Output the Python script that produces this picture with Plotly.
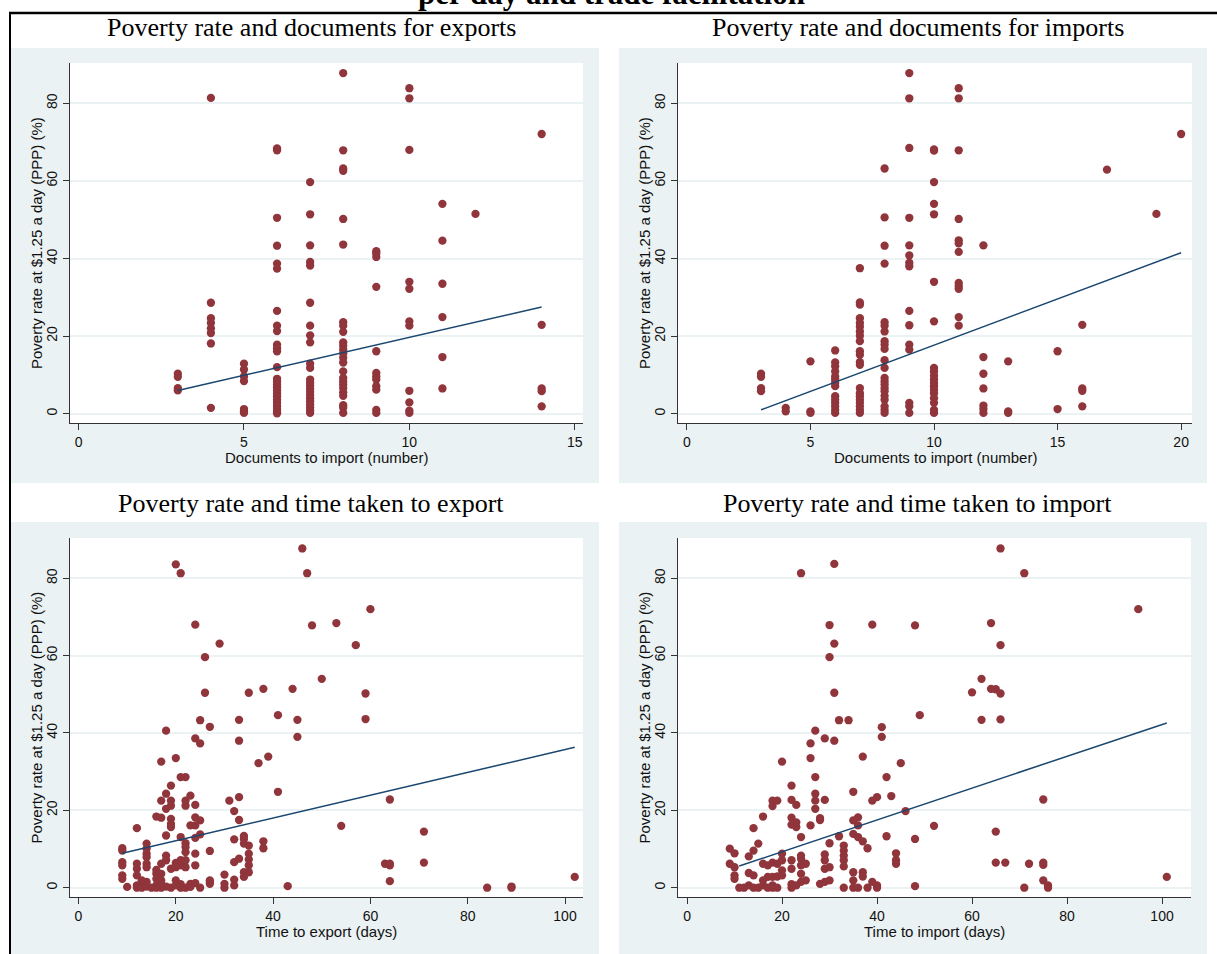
import plotly.graph_objects as go

# ---------------- data ----------------
# Panel 1: documents (x) vs poverty rate (y)
exp_doc_counts = [3, 4, 5, 6, 7, 8, 9, 10, 11, 12, 14]
exp_doc_poverty = [
    [10.3, 9.5, 6.6, 6.0],
    [81.4, 28.6, 24.6, 23.4, 22.0, 20.8, 18.1, 1.5],
    [12.9, 11.4, 9.6, 8.4, 1.2, 0.6, 0.2],
    [68.4, 67.9, 50.5, 43.3, 38.7, 37.4, 26.5, 22.7, 21.3, 17.8, 16.9, 16.1, 12.0,
     9.0, 8.3, 7.5, 6.8, 6.0, 5.2, 4.5, 3.6, 2.8, 2.0, 1.2, 0.5, 0.1],
    [59.7, 51.4, 43.4, 39.1, 38.2, 28.6, 22.7, 20.2, 18.4, 12.9, 11.8,
     8.8, 8.0, 7.2, 6.4, 5.6, 4.8, 4.0, 3.2, 2.4, 1.6, 0.8, 0.2],
    [87.8, 67.9, 63.2, 62.6, 50.2, 43.6, 23.6, 22.7, 21.1, 18.4, 17.5, 16.5, 15.5,
     14.4, 13.2, 10.9, 9.2, 8.3, 7.5, 6.6, 5.5, 4.6, 2.2, 1.5, 0.2],
    [41.9, 41.3, 40.4, 32.7, 16.1, 10.5, 9.6, 8.8, 7.1, 6.2, 1.0, 0.2],
    [83.9, 81.3, 68.0, 34.0, 32.2, 23.8, 22.7, 5.9, 2.9, 0.8, 0.2],
    [54.1, 44.6, 33.5, 24.9, 14.6, 6.5],
    [51.5],
    [72.1, 22.9, 6.5, 5.8, 1.9],
]
exp_doc_fit_x = [3, 14]
exp_doc_fit_y = [6.0, 27.5]

# Panel 2: documents for imports
imp_doc_counts = [3, 4, 5, 6, 7, 8, 9, 10, 11, 12, 13, 15, 16, 17, 19, 20]
imp_doc_poverty = [
    [10.3, 9.5, 6.6, 5.8],
    [1.5, 0.6],
    [13.5, 0.6, 0.2],
    [16.3, 13.2, 12.2, 10.9, 9.6, 8.8, 7.9, 7.1, 4.5, 3.6, 2.8, 1.9, 1.0, 0.2],
    [37.5, 28.7, 28.1, 24.6, 23.4, 22.4, 21.2, 20.1, 18.7, 16.1, 15.2, 13.3, 12.6,
     6.6, 5.3, 4.5, 3.6, 2.8, 1.9, 1.0, 0.2],
    [63.2, 50.6, 43.3, 38.7, 23.6, 22.7, 21.2, 18.7, 17.8, 16.7, 13.8, 11.8, 9.2,
     8.3, 7.5, 6.6, 5.8, 4.6, 3.6, 1.9, 1.0, 0.2],
    [87.8, 81.3, 68.5, 50.5, 43.4, 40.8, 38.9, 38.0, 26.5, 22.8, 17.8, 16.5, 2.8, 1.9, 0.2],
    [68.1, 67.8, 59.7, 54.1, 51.4, 34.0, 23.8, 11.8, 10.9, 9.8, 8.8, 7.9, 7.1, 6.2,
     5.3, 4.0, 2.8, 1.0, 0.2],
    [83.9, 81.3, 67.9, 50.2, 44.7, 43.9, 41.7, 33.7, 32.9, 32.2, 24.9, 22.7],
    [43.4, 14.6, 10.3, 6.5, 2.1, 1.2, 0.2],
    [13.5, 0.6, 0.2],
    [16.1, 1.2],
    [22.9, 6.5, 5.9, 1.9],
    [62.9],
    [51.5],
    [72.1],
]
imp_doc_fit_x = [3, 20]
imp_doc_fit_y = [1.0, 41.5]

# Panel 3: time to export (days)
exp_days = [20, 21, 46, 47, 24, 48, 53, 60, 29, 57, 26, 50, 26, 35, 38, 44, 59, 41, 25, 33,
            45, 59, 18, 27, 24, 25, 33, 45, 39, 37, 17, 20, 21, 22, 19, 41, 18, 23, 33, 64,
            17, 19, 22, 24, 22, 19, 31, 18, 32, 16, 17, 19, 24, 25, 33, 19, 19, 23, 24, 54,
            12, 71, 18, 21, 25, 24, 34, 34, 32, 38, 38, 14, 14, 14, 14, 9, 9, 22, 22, 22,
            27, 34, 35, 35, 35, 35, 35, 34, 34, 24, 24, 9, 9, 9, 9, 12, 12, 12, 13, 14,
            14, 18, 18, 17, 16, 16, 16, 17, 17, 19, 20, 20, 21, 21, 22, 22, 32, 33, 30, 32,
            27, 27, 63, 64, 64, 71, 64, 102, 43, 84, 89, 89,
            10, 12, 12, 13, 13, 14, 14, 15, 16, 16, 17, 17, 18, 19, 20, 20, 21, 21, 22, 23,
            23, 24, 25, 27, 30, 30, 32]
exp_days_poverty = [83.6, 81.3, 87.7, 81.3, 68.0, 67.8, 68.4, 72.0, 63.1, 62.7, 59.6, 54.0, 50.4,
                    50.4, 51.4, 51.4, 50.2, 44.6, 43.3, 43.4, 43.4, 43.6, 40.6, 41.6, 38.6, 37.3,
                    38.0, 39.0, 33.9, 32.2, 32.6, 33.5, 28.6, 28.6, 26.4, 24.8, 24.3, 23.8, 23.4,
                    22.8, 22.5, 22.5, 22.5, 21.4, 21.2, 21.2, 22.5, 20.4, 19.8, 18.4, 18.1, 17.8,
                    18.2, 17.4, 17.5, 16.5, 15.7, 16.1, 16.1, 16.0, 15.4, 14.5, 13.5, 13.1, 13.8,
                    12.9, 13.4, 12.6, 12.5, 12.0, 10.2, 11.4, 10.1, 8.8, 7.9, 10.2, 9.6, 11.5,
                    10.5, 9.2, 9.5, 11.4, 10.9, 8.8, 7.3, 5.8, 4.0, 2.8, 4.0, 8.8, 5.8, 6.6, 5.8,
                    3.2, 2.3, 6.2, 4.9, 3.2, 1.9, 6.2, 5.3, 8.3, 7.1, 6.2, 4.6, 3.6, 2.3, 3.6,
                    1.9, 4.9, 6.4, 5.3, 7.1, 5.8, 7.1, 5.3, 6.6, 7.5, 3.4, 2.1, 1.9, 1.0, 6.2,
                    6.2, 5.8, 6.5, 1.7, 2.8, 0.4, 0.0, 0.3, 0.0,
                    0.2, 0.6, 0.0, 0.9, 0.0, 0.3, 1.5, 0.0, 0.6, 0.0, 0.9, 0.0, 0.3, 0.0, 1.9,
                    0.6, 0.9, 0.0, 0.0, 1.0, 0.2, 1.2, 0.0, 1.5, 1.0, 0.0, 0.6]
exp_days_fit_x = [9, 102]
exp_days_fit_y = [8.9, 36.3]

# Panel 4: time to import (days)
imp_days = [66, 31, 24, 71, 95, 30, 39, 48, 64, 31, 66, 30, 62, 31, 60, 64, 65, 66, 49, 32,
            34, 62, 66, 27, 41, 29, 26, 31, 41, 37, 26, 20, 45, 27, 42, 22, 35, 27, 43, 40,
            75, 18, 19, 22, 29, 39, 23, 18, 27, 27, 46, 16, 22, 28, 36, 28, 35, 23, 22, 23,
            26, 36, 52, 14, 65, 35, 42, 32, 24, 36, 37, 48, 30, 15, 33, 38, 14, 9, 10, 44,
            13, 20, 24, 29, 33, 33, 33, 33, 44, 44, 29, 29, 30, 24, 22, 22, 20, 20, 9, 10,
            16, 17, 18, 19, 13, 14, 10, 10, 25, 24, 65, 67, 72, 75, 75, 101, 35, 37, 37, 24,
            25, 18, 19, 20, 17, 16, 30, 29, 28, 39, 40, 48, 71, 75, 76, 76, 35,
            11, 12, 13, 14, 15, 16, 17, 18, 18, 19, 22, 22, 23, 24, 33, 35, 36, 38, 40]
imp_days_poverty = [87.7, 83.7, 81.3, 81.3, 72.0, 67.9, 68.0, 67.8, 68.4, 63.1, 62.7, 59.6, 54.0,
                    50.4, 50.5, 51.4, 51.3, 50.2, 44.6, 43.3, 43.3, 43.4, 43.5, 40.6, 41.5, 38.6,
                    37.3, 38.0, 39.0, 33.9, 33.5, 32.6, 32.2, 28.6, 28.6, 26.4, 24.8, 24.3, 23.7,
                    23.4, 22.8, 22.5, 22.5, 22.7, 22.7, 22.5, 21.4, 21.1, 22.5, 20.4, 19.8, 18.4,
                    18.1, 18.0, 18.2, 17.5, 17.4, 16.9, 16.3, 15.7, 16.1, 16.1, 16.0, 15.4, 14.5,
                    13.9, 13.3, 13.3, 13.1, 13.1, 12.0, 12.6, 11.5, 11.4, 10.9, 10.2, 9.6, 10.1,
                    8.9, 8.9, 8.1, 8.8, 8.3, 8.6, 9.6, 8.3, 7.1, 5.5, 7.1, 6.2, 7.1, 4.9, 5.3,
                    7.5, 7.1, 4.9, 7.1, 4.5, 6.2, 5.3, 6.2, 5.8, 6.5, 6.2, 3.8, 3.2, 3.2, 2.3,
                    6.2, 5.8, 6.5, 6.5, 6.2, 6.5, 5.9, 2.8, 4.0, 4.0, 2.9, 3.6, 1.9, 2.8, 2.9,
                    3.2, 2.8, 1.9, 1.9, 1.5, 1.0, 1.5, 0.6, 0.4, 0.0, 1.9, 0.6, 0.0, 1.9,
                    0.0, 0.0, 0.6, 0.0, 0.0, 0.6, 0.0, 0.6, 0.0, 0.0, 0.0, 0.9, 0.6, 1.5, 0.0,
                    0.0, 0.0, 0.0, 0.0]
imp_days_fit_x = [11, 101]
imp_days_fit_y = [5.6, 42.6]

panel_titles = ["Poverty rate and documents for exports", "Poverty rate and documents for imports",
                "Poverty rate and time taken to export", "Poverty rate and time taken to import"]
x_titles = ["Documents to import (number)", "Documents to import (number)",
            "Time to export (days)", "Time to import (days)"]
y_title = "Poverty rate at $1.25 a day (PPP) (%)"
main_title = "per day and trade facilitation"
x_ticks = [[0, 5, 10, 15], [0, 5, 10, 15, 20], [0, 20, 40, 60, 80, 100], [0, 20, 40, 60, 80, 100]]
y_ticks = [0, 20, 40, 60, 80]


def expand(counts, groups):
    xs, ys = [], []
    for c, g in zip(counts, groups):
        for v in g:
            xs.append(c)
            ys.append(v)
    return xs, ys


p1x, p1y = expand(exp_doc_counts, exp_doc_poverty)
p2x, p2y = expand(imp_doc_counts, imp_doc_poverty)
series = [
    (p1x, p1y, exp_doc_fit_x, exp_doc_fit_y),
    (p2x, p2y, imp_doc_fit_x, imp_doc_fit_y),
    (exp_days, exp_days_poverty, exp_days_fit_x, exp_days_fit_y),
    (imp_days, imp_days_poverty, imp_days_fit_x, imp_days_fit_y),
]

# ---------------- layout (pixel geometry) ----------------
W, H = 1217, 954
MAROON = "#90353B"
NAVY = "#1A476F"
BLUISH = "#EAF2F3"


def fx(p):
    return p / W


def fy(p):
    return 1 - p / H


# plot area (l, t, r, b), background box, title centre
plots = [(70, 63, 583, 423), (678, 63, 1192, 423), (70, 538, 583, 897), (678, 538, 1191, 897)]
bgs = [(11, 48, 599, 483), (619, 48, 1207, 483), (11, 522, 599, 954), (619, 522, 1207, 954)]
title_pos = [(311, 28), (918, 28), (311, 503), (917, 503)]
x_ranges = [[-0.26, 15.25], [-0.36, 20.44], [-1.75, 103.7], [-1.9, 106.1]]
y_range = [-2.4, 90.4]

fig = go.Figure()
shapes = []
annotations = []

# frame lines
shapes.append(dict(type="line", xref="paper", yref="paper", x0=fx(10), x1=fx(10), y0=fy(13), y1=fy(954),
                   line=dict(color="black", width=2), layer="below"))
shapes.append(dict(type="line", xref="paper", yref="paper", x0=fx(9), x1=fx(1217), y0=fy(13), y1=fy(13),
                   line=dict(color="black", width=2.5), layer="below"))

tick_font = dict(family="Liberation Sans, Arial, sans-serif", size=14, color="#111")
title_font = dict(family="Liberation Sans, Arial, sans-serif", size=15, color="#111")

for i in range(4):
    l, t, r, b = plots[i]
    bl, bt, br, bb = bgs[i]
    shapes.append(dict(type="rect", xref="paper", yref="paper", x0=fx(bl), x1=fx(br), y0=fy(bb), y1=fy(bt),
                       fillcolor=BLUISH, line=dict(width=0), layer="below"))
    shapes.append(dict(type="rect", xref="paper", yref="paper", x0=fx(l), x1=fx(r), y0=fy(b), y1=fy(t),
                       fillcolor="white", line=dict(width=0), layer="below"))
    sx = "" if i == 0 else str(i + 1)
    xs, ys, fxs, fys = series[i]
    fig.add_trace(go.Scatter(x=xs, y=ys, mode="markers", xaxis="x" + sx, yaxis="y" + sx,
                             marker=dict(color=MAROON, size=8.3, line=dict(width=0)),
                             showlegend=False, hoverinfo="skip"))
    fig.add_trace(go.Scatter(x=fxs, y=fys, mode="lines", xaxis="x" + sx, yaxis="y" + sx,
                             line=dict(color=NAVY, width=1.5), showlegend=False, hoverinfo="skip"))
    common = dict(showline=True, linecolor="#333", linewidth=1, ticks="outside", ticklen=6,
                  tickcolor="#333", tickwidth=1, tickfont=tick_font, zeroline=False)
    fig.layout["xaxis" + sx] = dict(domain=[fx(l), fx(r)], range=x_ranges[i], tickvals=x_ticks[i],
                                    anchor="y" + sx, showgrid=False, **common)
    fig.layout["yaxis" + sx] = dict(domain=[fy(b), fy(t)], range=y_range, tickvals=y_ticks,
                                    anchor="x" + sx, showgrid=True, gridcolor=BLUISH, gridwidth=1.5,
                                    tickangle=-90, **common)
    tx, ty = title_pos[i]
    annotations.append(dict(text=panel_titles[i], xref="paper", yref="paper", x=fx(tx), y=fy(ty),
                            xanchor="center", yanchor="middle", showarrow=False,
                            font=dict(family="Liberation Serif, Times New Roman, serif", size=26, color="black")))
    annotations.append(dict(text=x_titles[i], xref="paper", yref="paper", x=fx((l + r) / 2), y=fy(b + 34),
                            xanchor="center", yanchor="middle", showarrow=False, font=title_font))
    annotations.append(dict(text=y_title, xref="paper", yref="paper", x=fx(l - 34), y=fy((t + b) / 2),
                            xanchor="center", yanchor="middle", showarrow=False, textangle=-90,
                            font=title_font))

annotations.append(dict(text="<b>" + main_title + "</b>", xref="paper", yref="paper", x=fx(611), y=fy(-7),
                        xanchor="center", yanchor="middle", showarrow=False,
                        font=dict(family="Liberation Serif, Times New Roman, serif", size=31, color="black")))

fig.update_layout(width=W, height=H, margin=dict(l=0, r=0, t=0, b=0), paper_bgcolor="white",
                  plot_bgcolor="white", shapes=shapes, annotations=annotations)

fig.write_html("out.html", config={"displayModeBar": False},
               post_script="document.body.style.margin='0px';")
